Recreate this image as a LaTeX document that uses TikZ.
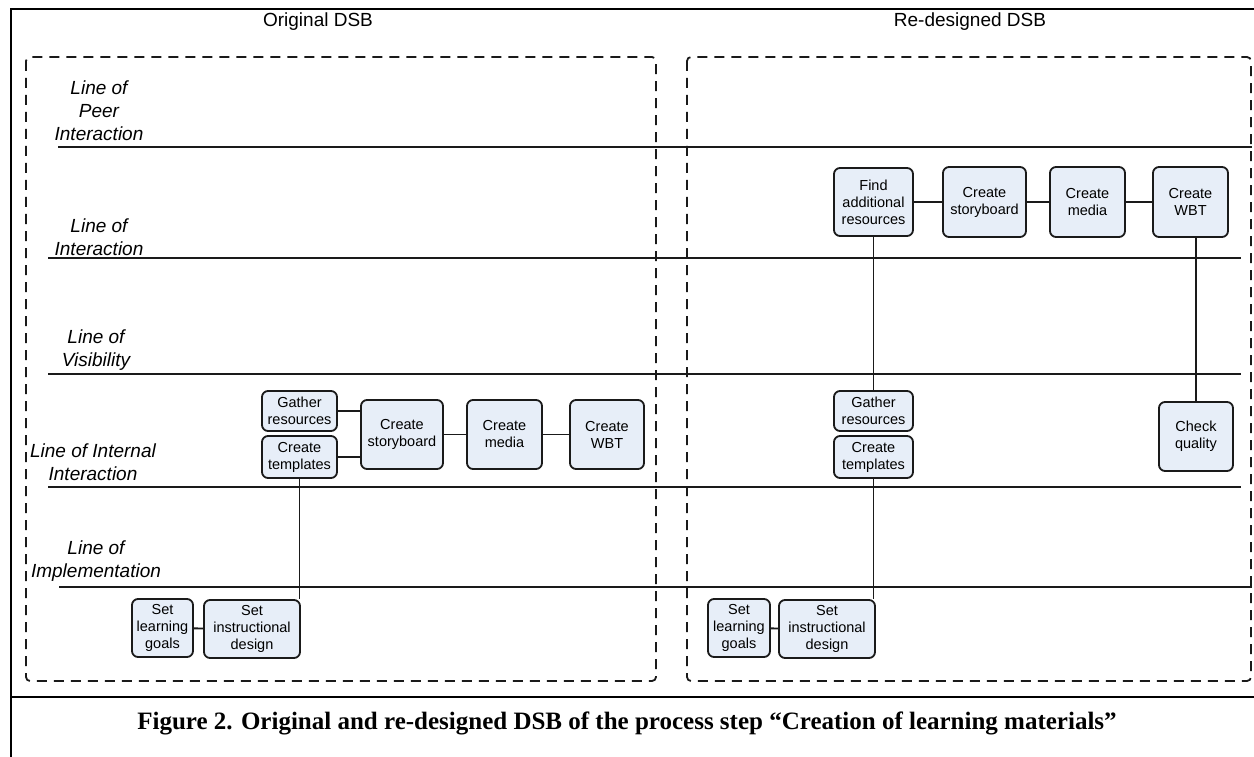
\documentclass[tikz,border=0pt]{standalone}
\usepackage{fontspec}
\setmainfont{Liberation Serif}
\setsansfont{Liberation Sans}
\usepackage{tikz}
\usetikzlibrary{positioning,calc}
\definecolor{dsbInk}{HTML}{1A1A1A}
\definecolor{dsbFill}{HTML}{E7EEF8}
\tikzset{
    every picture/.style={font=\sffamily},
    dsbBox/.style={draw=dsbInk, line width=1.8pt, rounded corners=6pt, fill=dsbFill, align=center, inner sep=1pt, text=black, font=\sffamily\fontsize{14.5}{17}\selectfont},
    lane/.style={line width=1.8pt, draw=dsbInk},
    laneLabel/.style={align=center, inner sep=0pt, font=\sffamily\itshape\fontsize{19}{23}\selectfont},
    panel/.style={draw=dsbInk, line width=1.8pt, dash pattern=on 10pt off 7pt, rounded corners=4pt},
    head/.style={inner sep=0pt, font=\sffamily\fontsize{19}{22}\selectfont},
    link/.style={line width=1.8pt, draw=dsbInk}
}
\begin{document}
\begin{tikzpicture}[x=1pt,y=-1pt]
\useasboundingbox (0,0) rectangle (1254,757);
\draw[line width=2.4pt] (11,757) -- (11,9) -- (1254,9);
\draw[line width=2.8pt] (11,697) -- (1254,697);
\draw[panel] (26,57) rectangle (656,681);
\draw[panel] (687,57) rectangle (1251,681);
\node[head] (origTitle) at (318,22) {Original DSB};
\node[head] (redTitle) at (970,22) {Re-designed DSB};
\foreach \y/\xa/\xb in {147/58/1252,258/48/1241,374/48/1241,487/48/1241,587/59/1252}
  \draw[lane] (\xa,\y) -- (\xb,\y);
\foreach \n/\x/\y/\t in {peer/99/111/{Line of\\Peer\\Interaction},inter/99/237/{Line of\\Interaction},vis/96/350/{Line of\\Visibility},internal/93/462/{Line of Internal\\Interaction},impl/96/561/{Line of\\Implementation}}
  \node[laneLabel] (lbl-\n) at (\x,\y) {\t};
% original DSB
\node[dsbBox, minimum width=75pt, minimum height=40pt] (lgather) at (299.5,411) {Gather\\resources};
\node[dsbBox, minimum width=75pt, minimum height=42pt] (ltempl) at (299.5,457) {Create\\templates};
\node[dsbBox, minimum width=82pt, minimum height=69pt] (lstory) at (402,434.5) {Create\\storyboard};
\node[dsbBox, minimum width=75pt, minimum height=69pt] (lmedia) at (504.5,434.5) {Create\\media};
\node[dsbBox, minimum width=74pt, minimum height=69pt] (lwbt) at (607,434.5) {Create\\WBT};
\node[dsbBox, minimum width=61pt, minimum height=58pt] (lgoals) at (162.5,628) {Set\\learning\\goals};
\node[dsbBox, minimum width=96pt, minimum height=58pt] (ldesign) at (252,629) {Set\\instructional\\design};
\draw[link] (lgather.east) -- (lgather.east -| lstory.west);
\draw[link] (ltempl.east) -- (ltempl.east -| lstory.west);
\draw[link] (lstory) -- (lmedia);
\draw[link] (lmedia) -- (lwbt);
\draw[link] (lgoals) -- (ldesign);
\draw[link] (ltempl.south) -- (ltempl.south |- ldesign.north);
% re-designed DSB
\node[dsbBox, minimum width=79pt, minimum height=68pt] (rfind) at (873.5,202) {Find\\additional\\resources};
\node[dsbBox, minimum width=83pt, minimum height=70pt] (rstory) at (984.5,202) {Create\\storyboard};
\node[dsbBox, minimum width=75pt, minimum height=70pt] (rmedia) at (1087.5,202) {Create\\media};
\node[dsbBox, minimum width=75pt, minimum height=70pt] (rwbt) at (1190.5,202) {Create\\WBT};
\node[dsbBox, minimum width=79pt, minimum height=40pt] (rgather) at (873.5,411) {Gather\\resources};
\node[dsbBox, minimum width=79pt, minimum height=42pt] (rtempl) at (873.5,457) {Create\\templates};
\node[dsbBox, minimum width=74pt, minimum height=69pt] (rcheck) at (1196,436.5) {Check\\quality};
\node[dsbBox, minimum width=62pt, minimum height=58pt] (rgoals) at (739,628) {Set\\learning\\goals};
\node[dsbBox, minimum width=96pt, minimum height=58pt] (rdesign) at (827,629) {Set\\instructional\\design};
\draw[link] (rfind) -- (rstory);
\draw[link] (rstory) -- (rmedia);
\draw[link] (rmedia) -- (rwbt);
\draw[link] (rgoals) -- (rdesign);
\draw[link] (rfind.south) -- (rgather.north);
\draw[link] (rcheck.north) -- (rcheck.north |- rwbt.south);
\draw[link] (rtempl.south) -- (rtempl.south |- rdesign.north);
\node[font=\rmfamily\bfseries\fontsize{25}{28}\selectfont, inner sep=0pt] (caption) at (627,723) {Figure 2. Original and re-designed DSB of the process step “Creation of learning materials”};
\end{tikzpicture}
\end{document}
